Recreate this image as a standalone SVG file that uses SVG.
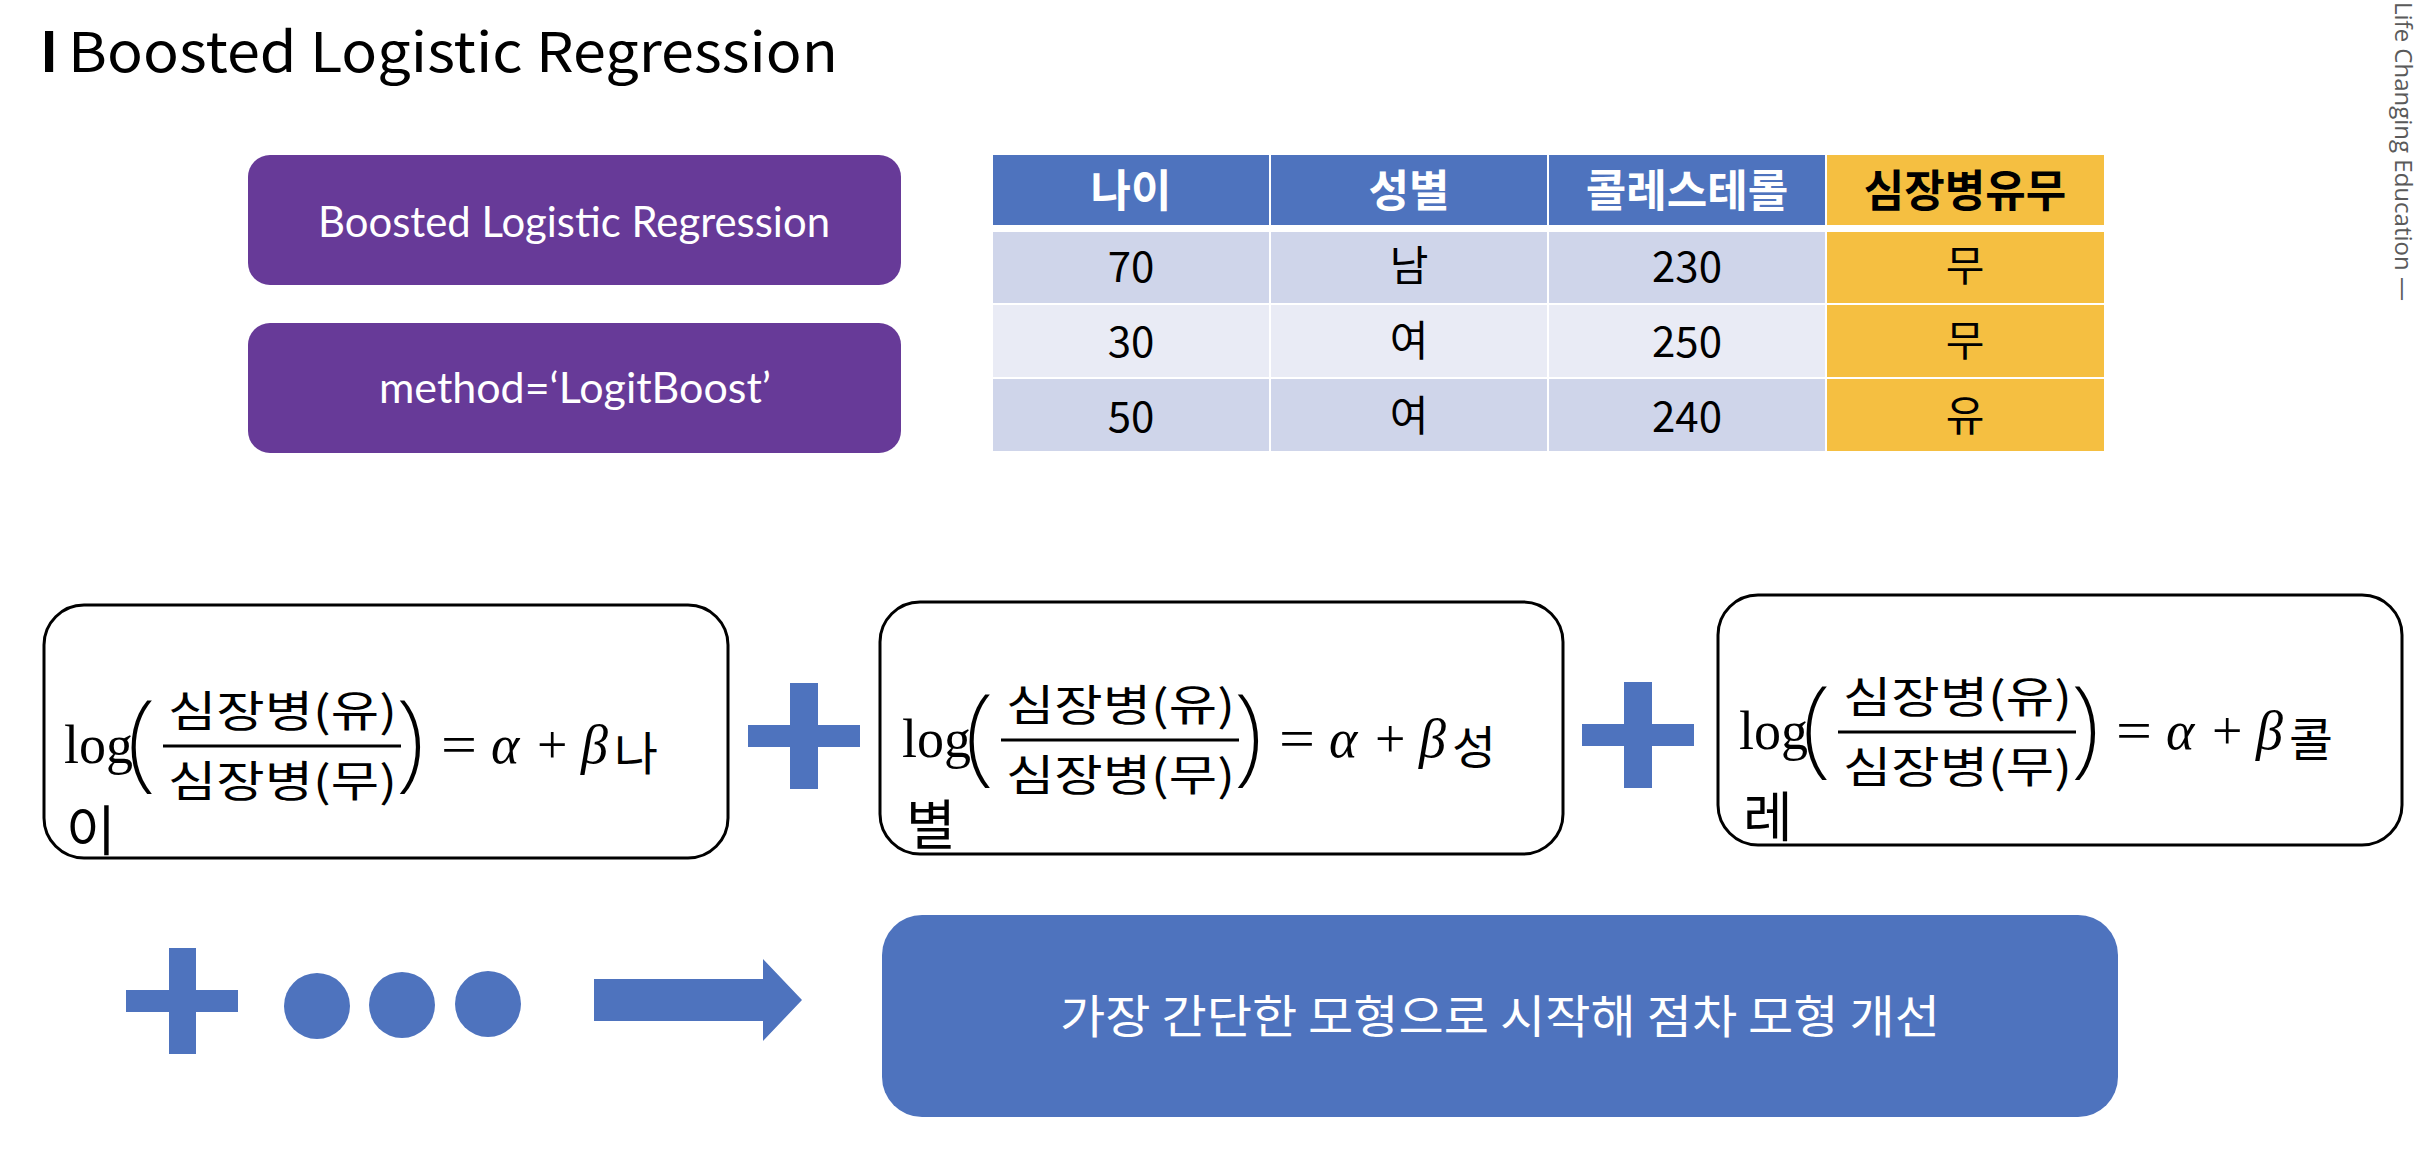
<svg xmlns="http://www.w3.org/2000/svg" width="2422" height="1166" viewBox="0 0 2422 1166">
  <style>
    .title { font-family: "Noto Sans CJK KR", "Open Sans", sans-serif; font-size: 55px; fill: #000; }
    .side { font-family: "Open Sans", "Liberation Sans", sans-serif; font-size: 24px; fill: #5a5a5a; }
    .pbox { fill: #673A98; }
    .ptext { font-family: Lato, "Open Sans", sans-serif; font-size: 42px; fill: #fff; }
    .hd { font-family: "Noto Sans CJK KR", sans-serif; font-weight: 700; font-size: 44px; text-anchor: middle; }
    .cell { font-family: "Noto Sans CJK KR", sans-serif; font-size: 42px; text-anchor: middle; fill: #000; }
    .blue { fill: #4E73BE; }
    .c-band1 { fill: #CFD5EA; }
    .c-band2 { fill: #E9EBF5; }
    .c-gold { fill: #F5BF41; }
    .eqbox { fill: #fff; stroke: #000; stroke-width: 3; }
    .ser { font-family: "Liberation Serif", "DejaVu Serif", serif; font-size: 54px; fill: #000; }
    .it { font-style: italic; }
    .paren { font-family: "Noto Sans", "DejaVu Sans", sans-serif; font-weight: 200; font-size: 108px; fill: #000; }
    .kr { font-family: "Noto Sans CJK KR", sans-serif; fill: #000; }
    .frac { font-size: 43px; }
    .note { font-family: "Noto Sans CJK KR", sans-serif; font-size: 46px; fill: #fff; text-anchor: middle; }
  </style>

  <defs>
    <!-- one logit equation; the trailing variable name differs per box -->
    <g id="logit-core">
      <text class="ser" x="64" y="763">log</text>
      <text class="paren" x="127" y="777">(</text>
      <text class="kr frac" x="168" y="727" textLength="229" lengthAdjust="spacingAndGlyphs">심장병(유)</text>
      <rect x="163" y="744.5" width="238" height="3" fill="#000"/>
      <text class="kr frac" x="168" y="797" textLength="229" lengthAdjust="spacingAndGlyphs">심장병(무)</text>
      <text class="paren" x="396" y="777">)</text>
      <text class="ser" x="441" y="763" textLength="36" lengthAdjust="spacingAndGlyphs">=</text>
      <text class="ser it" x="491" y="763" font-size="58">α</text>
      <text class="ser" x="537" y="763">+</text>
      <text class="ser it" x="581" y="763" font-size="58">β</text>
    </g>
  </defs>

  <!-- page title -->
  <g id="title">
    <text class="title" x="40" y="72" font-weight="700">I</text>
    <text class="title" x="68" y="72" textLength="770" lengthAdjust="spacingAndGlyphs">Boosted Logistic Regression</text>
  </g>

  <!-- vertical footer tag on the right edge -->
  <g id="side-tag">
    <text class="side" transform="translate(2395,2) rotate(90)">Life Changing Education —</text>
  </g>

  <!-- model labels -->
  <g id="label-model">
    <rect class="pbox" x="248" y="155" width="653" height="130" rx="22"/>
    <text class="ptext" x="318" y="237" textLength="512" lengthAdjust="spacingAndGlyphs">Boosted Logistic Regression</text>
  </g>
  <g id="label-method">
    <rect class="pbox" x="248" y="323" width="653" height="130" rx="22"/>
    <text class="ptext" x="379" y="403" textLength="392" lengthAdjust="spacingAndGlyphs">method=‘LogitBoost’</text>
  </g>

  <!-- sample data table -->
  <g id="data-table">
    <!-- header row -->
    <rect class="blue" x="993" y="155" width="276" height="70"/>
    <rect class="blue" x="1271" y="155" width="276" height="70"/>
    <rect class="blue" x="1549" y="155" width="276" height="70"/>
    <rect class="c-gold" x="1827" y="155" width="277" height="70"/>
    <!-- row 1 -->
    <rect class="c-band1" x="993" y="232" width="276" height="71"/>
    <rect class="c-band1" x="1271" y="232" width="276" height="71"/>
    <rect class="c-band1" x="1549" y="232" width="276" height="71"/>
    <rect class="c-gold" x="1827" y="232" width="277" height="71"/>
    <!-- row 2 -->
    <rect class="c-band2" x="993" y="305" width="276" height="72"/>
    <rect class="c-band2" x="1271" y="305" width="276" height="72"/>
    <rect class="c-band2" x="1549" y="305" width="276" height="72"/>
    <rect class="c-gold" x="1827" y="305" width="277" height="72"/>
    <!-- row 3 -->
    <rect class="c-band1" x="993" y="379" width="276" height="72"/>
    <rect class="c-band1" x="1271" y="379" width="276" height="72"/>
    <rect class="c-band1" x="1549" y="379" width="276" height="72"/>
    <rect class="c-gold" x="1827" y="379" width="277" height="72"/>

    <text class="hd" x="1131" y="207" fill="#fff">나이</text>
    <text class="hd" x="1409" y="207" fill="#fff">성별</text>
    <text class="hd" x="1687" y="207" fill="#fff">콜레스테롤</text>
    <text class="hd" x="1965" y="207" fill="#000">심장병유무</text>

    <text class="cell" x="1131" y="282">70</text>
    <text class="cell" x="1409" y="281">남</text>
    <text class="cell" x="1687" y="282">230</text>
    <text class="cell" x="1965" y="281">무</text>

    <text class="cell" x="1131" y="357">30</text>
    <text class="cell" x="1409" y="356">여</text>
    <text class="cell" x="1687" y="357">250</text>
    <text class="cell" x="1965" y="356">무</text>

    <text class="cell" x="1131" y="432">50</text>
    <text class="cell" x="1409" y="431">여</text>
    <text class="cell" x="1687" y="432">240</text>
    <text class="cell" x="1965" y="431">유</text>
  </g>

  <!-- per-feature logit models -->
  <g id="eq-age">
    <rect class="eqbox" x="44" y="605" width="684" height="253" rx="40"/>
    <use href="#logit-core"/>
    <text class="kr" x="614" y="770" font-size="46" textLength="44" lengthAdjust="spacingAndGlyphs">나</text>
    <text class="kr" x="66" y="851" font-size="54">이</text>
  </g>

  <g id="eq-sex">
    <rect class="eqbox" x="880" y="602" width="683" height="252" rx="40"/>
    <g transform="translate(838,-6)">
      <use href="#logit-core"/>
      <text class="kr" x="614" y="770" font-size="46" textLength="44" lengthAdjust="spacingAndGlyphs">성</text>
      <text class="kr" x="68" y="851" font-size="54">별</text>
    </g>
  </g>

  <g id="eq-chol">
    <rect class="eqbox" x="1718" y="595" width="684" height="250" rx="40"/>
    <g transform="translate(1675,-14)">
      <use href="#logit-core"/>
      <text class="kr" x="614" y="770" font-size="46" textLength="44" lengthAdjust="spacingAndGlyphs">콜</text>
      <text class="kr" x="68" y="851" font-size="54">레</text>
    </g>
  </g>

  <!-- plus signs, ellipsis and arrow -->
  <g id="connectors">
    <g id="plus-1" class="blue">
      <rect x="748" y="725" width="112" height="22"/>
      <rect x="790" y="683" width="28" height="106"/>
    </g>
    <g id="plus-2" class="blue">
      <rect x="1582" y="724" width="112" height="22"/>
      <rect x="1624" y="682" width="28" height="106"/>
    </g>
    <g id="plus-3" class="blue">
      <rect x="126" y="990" width="112" height="22"/>
      <rect x="169" y="948" width="27" height="106"/>
    </g>
    <g id="ellipsis" class="blue">
      <circle cx="317" cy="1006" r="33"/>
      <circle cx="402" cy="1005" r="33"/>
      <circle cx="488" cy="1004" r="33"/>
    </g>
    <polygon id="arrow" class="blue" points="594,979 763,979 763,959 802,1000 763,1041 763,1021 594,1021"/>
  </g>

  <!-- conclusion -->
  <g id="summary">
    <rect class="blue" x="882" y="915" width="1236" height="202" rx="40"/>
    <text class="note" x="1500" y="1033" textLength="880" lengthAdjust="spacingAndGlyphs">가장 간단한 모형으로 시작해 점차 모형 개선</text>
  </g>
</svg>
